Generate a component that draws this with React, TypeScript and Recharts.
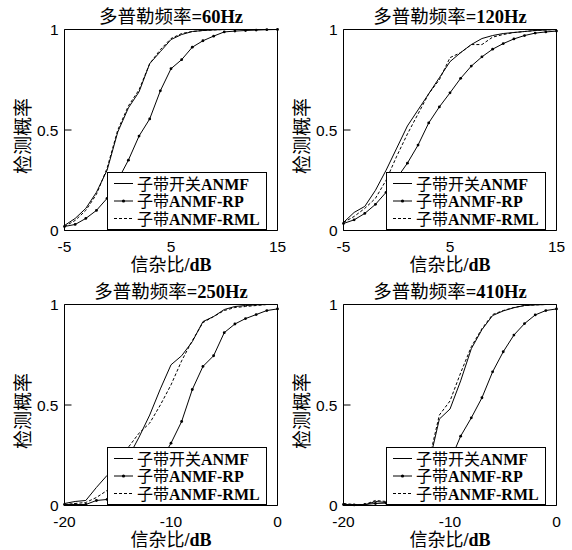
import React from 'react';
import { LineChart, Line, XAxis, YAxis, ReferenceArea, Legend } from 'recharts';

// SNR grids (dB)
const snrHigh = [-5, -4, -3, -2, -1, 0, 1, 2, 3, 4, 5, 6, 7, 8, 9, 10, 11, 12, 13, 14, 15];
const snrLow = [-20, -19, -18, -17, -16, -15, -14, -13, -12, -11, -10, -9, -8, -7, -6, -5, -4, -3, -2, -1, 0];

const ticksHigh = [-5, 5, 15];
const ticksLow = [-20, -10, 0];
const yTicks = [0, 0.5, 1];

// Doppler = 60 Hz
const sw60 = [0.025, 0.06, 0.11, 0.19, 0.3, 0.49, 0.61, 0.69, 0.83, 0.89, 0.95, 0.975, 0.99, 0.995, 0.998, 1, 1, 1, 1, 1, 1];
const rp60 = [0.02, 0.03, 0.06, 0.1, 0.16, 0.25, 0.35, 0.47, 0.555, 0.695, 0.805, 0.85, 0.912, 0.944, 0.967, 0.988, 0.992, 0.995, 0.997, 0.999, 1];
const rml60 = [0.02, 0.05, 0.1, 0.18, 0.31, 0.5, 0.62, 0.7, 0.83, 0.9, 0.955, 0.98, 0.99, 0.995, 0.998, 1, 1, 1, 1, 1, 1];

// Doppler = 120 Hz
const sw120 = [0.04, 0.09, 0.12, 0.2, 0.3, 0.41, 0.52, 0.6, 0.68, 0.76, 0.84, 0.885, 0.925, 0.955, 0.97, 0.98, 0.985, 0.99, 0.995, 0.998, 1];
const rp120 = [0.035, 0.053, 0.085, 0.13, 0.19, 0.26, 0.335, 0.425, 0.535, 0.615, 0.685, 0.757, 0.818, 0.864, 0.902, 0.93, 0.953, 0.97, 0.982, 0.988, 0.992];
const rml120 = [0.04, 0.07, 0.11, 0.16, 0.25, 0.37, 0.48, 0.58, 0.68, 0.75, 0.86, 0.885, 0.925, 0.925, 0.962, 0.975, 0.985, 0.99, 0.995, 0.998, 1];

// Doppler = 250 Hz
const sw250 = [0.01, 0.02, 0.025, 0.09, 0.15, 0.19, 0.24, 0.34, 0.45, 0.58, 0.7, 0.745, 0.815, 0.915, 0.94, 0.975, 0.99, 0.995, 0.998, 1, 1];
const rp250 = [0.005, 0.005, 0.005, 0.025, 0.03, 0.04, 0.06, 0.1, 0.15, 0.22, 0.31, 0.418, 0.577, 0.692, 0.745, 0.86, 0.903, 0.93, 0.95, 0.97, 0.978];
const rml250 = [0.005, 0.01, 0.015, 0.04, 0.075, 0.15, 0.29, 0.36, 0.41, 0.5, 0.6, 0.72, 0.82, 0.91, 0.94, 0.97, 0.985, 0.99, 0.995, 1, 1];

// Doppler = 410 Hz
const sw410 = [0.005, 0.005, 0.003, 0.02, 0.015, 0.01, 0.02, 0.05, 0.2, 0.43, 0.48, 0.62, 0.78, 0.875, 0.945, 0.968, 0.984, 0.995, 0.998, 1, 1];
const rp410 = [0.005, 0.003, 0.005, 0.01, 0.012, 0.01, 0.02, 0.03, 0.06, 0.12, 0.22, 0.345, 0.436, 0.536, 0.665, 0.765, 0.848, 0.905, 0.948, 0.97, 0.978];
const rml410 = [0.01, 0.005, 0.005, 0.025, 0.02, 0.015, 0.02, 0.05, 0.22, 0.45, 0.52, 0.66, 0.79, 0.88, 0.95, 0.97, 0.985, 0.995, 0.998, 1, 1];

const seriesOrder = ['sw', 'rp', 'rml'];
const seriesNames: Record<string, string> = { sw: '子带开关ANMF', rp: '子带ANMF-RP', rml: '子带ANMF-RML' };

const SERIF = "'Liberation Serif', 'Noto Sans CJK SC', serif";
const SANS = "'Liberation Sans', Arial, sans-serif";
const CHART_W = 286;
const CHART_H = 275;
const Y_AXIS_W = 40;
const X_AXIS_H = 30;
const TICK_GAP = 6;
const TICK_LEN = 7;

// CJK glyphs in regular weight, latin parts bold (like the figure)
const mixedText = (s: string) =>
  s
    .split(/([\u4e00-\u9fff]+)/)
    .filter(Boolean)
    .map((part, i) => (
      <tspan key={i} fontWeight={/[\u4e00-\u9fff]/.test(part) ? 'normal' : 'bold'}>
        {part}
      </tspan>
    ));

const YTick = (props: any) => {
  const { x, y, payload } = props;
  const axisX = x + TICK_GAP;
  return (
    <g>
      <line x1={axisX} x2={axisX + TICK_LEN} y1={y} y2={y} stroke="#000" />
      <text x={x} y={y} dy={5.5} textAnchor="end" fontSize={15.5} fontFamily={SANS} fill="#000">
        {payload.value}
      </text>
    </g>
  );
};

const XTick = (props: any) => {
  const { x, y, payload } = props;
  return (
    <g>
      <line x1={x} x2={x} y1={y} y2={y - TICK_LEN} stroke="#000" />
      <text x={x} y={y + 21} textAnchor="middle" fontSize={15.5} fontFamily={SANS} fill="#000">
        {payload.value}
      </text>
    </g>
  );
};

const XLabel = (props: any) => {
  const { viewBox } = props;
  return (
    <text
      x={viewBox.x + viewBox.width / 2}
      y={viewBox.y + 34}
      dominantBaseline="central"
      textAnchor="middle"
      fontSize={18}
      fontFamily={SERIF}
      fill="#000"
    >
      {mixedText('信杂比/dB')}
    </text>
  );
};

const YLabel = (props: any) => {
  const { viewBox } = props;
  const cx = viewBox.x + viewBox.width - 42;
  const cy = viewBox.y + viewBox.height / 2 + 6;
  return (
    <text
      x={cx}
      y={cy}
      transform={`rotate(-90 ${cx} ${cy})`}
      dominantBaseline="central"
      textAnchor="middle"
      fontSize={19}
      fontFamily={SERIF}
      fill="#000"
    >
      {mixedText('检测概率')}
    </text>
  );
};

const makeTitle = (title: string) => (props: any) => {
  const { viewBox } = props;
  return (
    <text
      x={viewBox.x + viewBox.width / 2}
      y={viewBox.y - 13}
      dominantBaseline="central"
      textAnchor="middle"
      fontSize={18.5}
      fontFamily={SERIF}
      fill="#000"
    >
      {mixedText(title)}
    </text>
  );
};

const LegendBox = (props: any) => {
  const payload: any[] = props.payload || [];
  const items = seriesOrder.map((key) => {
    const found = payload.find((p) => p.dataKey === key);
    return { key, value: found ? found.value : seriesNames[key] };
  });
  return (
    <svg width={160} height={58} style={{ display: 'block' }}>
      <rect x={0.5} y={0.5} width={159} height={57} fill="#fff" stroke="#000" />
      {items.map((entry, i) => {
        const cy = 11.5 + i * 17.5;
        return (
          <g key={entry.key}>
            <line
              x1={7}
              x2={26}
              y1={cy}
              y2={cy}
              stroke="#000"
              strokeDasharray={entry.key === 'rml' ? '3 2' : undefined}
            />
            {entry.key === 'rp' && <circle cx={16.5} cy={cy} r={1.6} fill="#000" />}
            <text x={30} y={cy} dominantBaseline="central" fontSize={16} fontFamily={SERIF} fill="#000">
              {mixedText(String(entry.value))}
            </text>
          </g>
        );
      })}
    </svg>
  );
};

interface PanelProps {
  title: string;
  snr: number[];
  sw: number[];
  rp: number[];
  rml: number[];
  xTicks: number[];
  left: number;
  top: number;
}

const DetectionPanel: React.FC<PanelProps> = ({ title, snr, sw, rp, rml, xTicks, left, top }) => {
  const data = snr.map((s, i) => ({ snr: s, sw: sw[i], rp: rp[i], rml: rml[i] }));
  const xMin = snr[0];
  const xMax = snr[snr.length - 1];

  return (
    <div style={{ position: 'absolute', left, top, width: CHART_W, height: CHART_H }}>
      <LineChart
        width={CHART_W}
        height={CHART_H}
        data={data}
        margin={{ top: 29.5, right: 8.5, bottom: 44.5 - X_AXIS_H, left: 64.5 - Y_AXIS_W }}
      >
        <XAxis
          dataKey="snr"
          type="number"
          domain={[xMin, xMax]}
          ticks={xTicks}
          interval={0}
          height={X_AXIS_H}
          tickSize={0}
          tickMargin={0}
          tickLine={false}
          axisLine={false}
          tick={<XTick />}
          label={{ content: <XLabel /> }}
        />
        <YAxis
          type="number"
          domain={[0, 1]}
          ticks={yTicks}
          interval={0}
          width={Y_AXIS_W}
          tickSize={0}
          tickMargin={TICK_GAP}
          tickLine={false}
          axisLine={false}
          tick={<YTick />}
          label={{ content: <YLabel /> }}
        />
        <ReferenceArea
          x1={xMin}
          x2={xMax}
          y1={0}
          y2={1}
          fill="none"
          fillOpacity={0}
          stroke="#000"
          strokeWidth={1}
          ifOverflow="visible"
          label={{ content: makeTitle(title) }}
        />
        <Line
          type="linear"
          dataKey="sw"
          name={seriesNames.sw}
          stroke="#000"
          strokeWidth={1}
          dot={false}
          isAnimationActive={false}
        />
        <Line
          type="linear"
          dataKey="rp"
          name={seriesNames.rp}
          stroke="#000"
          strokeWidth={1}
          dot={{ r: 1.4, fill: '#000', stroke: '#000', strokeWidth: 0 }}
          isAnimationActive={false}
        />
        <Line
          type="linear"
          dataKey="rml"
          name={seriesNames.rml}
          stroke="#000"
          strokeWidth={1}
          strokeDasharray="3 2"
          dot={false}
          isAnimationActive={false}
        />
        <Legend
          layout="vertical"
          align="center"
          verticalAlign="middle"
          content={<LegendBox />}
          wrapperStyle={{ left: 107, top: 171.5, width: 160, height: 58, right: 'auto', bottom: 'auto' }}
        />
      </LineChart>
    </div>
  );
}

export default function App() {
  return (
    <div
      style={{
        position: 'absolute',
        left: 0,
        top: 0,
        width: 572,
        height: 550,
        background: '#fff',
        overflow: 'hidden',
      }}
    >
      <DetectionPanel title="多普勒频率=60Hz" snr={snrHigh} sw={sw60} rp={rp60} rml={rml60} xTicks={ticksHigh} left={0} top={0} />
      <DetectionPanel title="多普勒频率=120Hz" snr={snrHigh} sw={sw120} rp={rp120} rml={rml120} xTicks={ticksHigh} left={279} top={0} />
      <DetectionPanel title="多普勒频率=250Hz" snr={snrLow} sw={sw250} rp={rp250} rml={rml250} xTicks={ticksLow} left={0} top={275} />
      <DetectionPanel title="多普勒频率=410Hz" snr={snrLow} sw={sw410} rp={rp410} rml={rml410} xTicks={ticksLow} left={279} top={275} />
    </div>
  );
}
